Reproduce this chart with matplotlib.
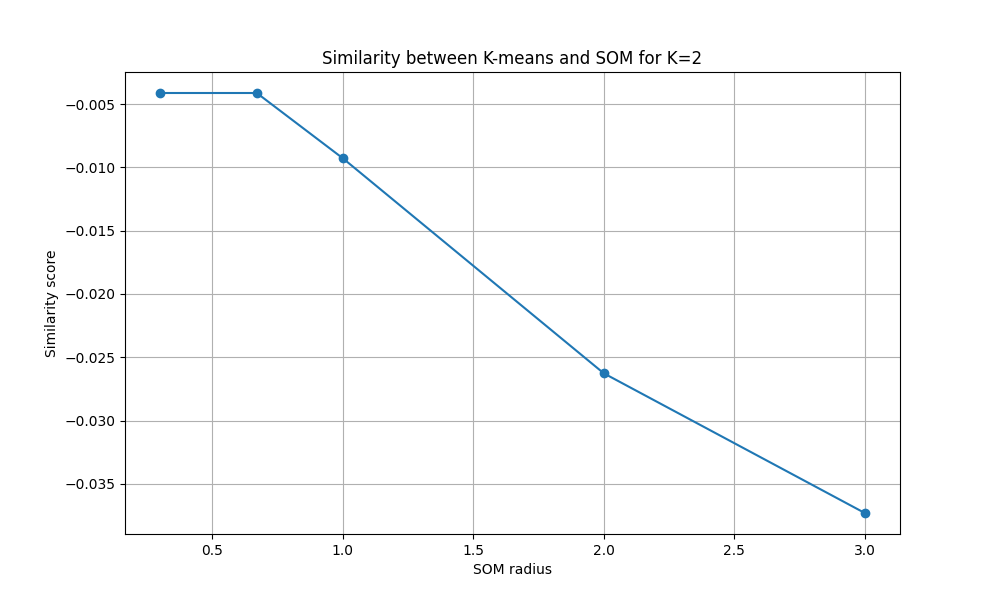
import matplotlib
matplotlib.use("Agg")
import matplotlib.pyplot as plt

# SOM radius vs similarity score
radius = [0.3, 0.67, 1.0, 2.0, 3.0]
score = [-0.00413, -0.00413, -0.00929, -0.02627, -0.0373]

plt.figure(figsize=(10, 6), dpi=100)
plt.plot(radius, score, marker='o')
plt.xlabel("SOM radius")
plt.ylabel("Similarity score")
plt.title("Similarity between K-means and SOM for K=2")
plt.grid(True)
plt.savefig("out.png")
